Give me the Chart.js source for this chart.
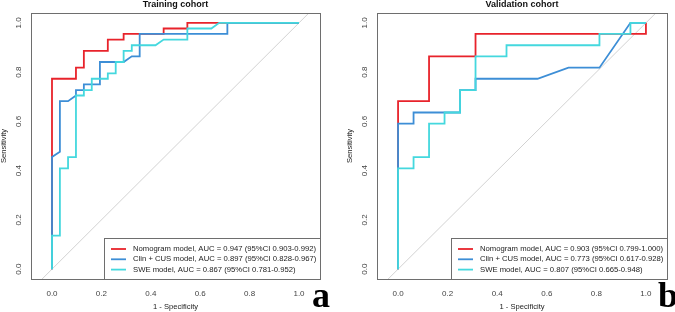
<!DOCTYPE html>
<html><head><meta charset="utf-8">
<script src="https://cdn.jsdelivr.net/npm/chart.js@4"></script>
<style>
html,body{margin:0;padding:0;background:#fff;}
#wrap{position:relative;width:675px;height:312px;overflow:hidden;background:#fff;}
canvas{position:absolute;top:0;}
</style></head><body>
<div id="wrap">
<canvas id="ca" width="338" height="312" style="left:0;width:338px;height:312px"></canvas>
<canvas id="cb" width="337" height="312" style="left:338px;width:337px;height:312px"></canvas>
</div>
<script>
// ---- data ----
const tickValues = [0, 0.2, 0.4, 0.6, 0.8, 1.0];
const tickLabels = ['0.0', '0.2', '0.4', '0.6', '0.8', '1.0'];
const panelTitles = ['Training cohort', 'Validation cohort'];
const panelLetters = ['a', 'b'];
const xAxisLabel = '1 - Specificity';
const yAxisLabel = 'Sensitivity';

const trainLegend = [
  'Nomogram model, AUC = 0.947 (95%CI 0.903-0.992)',
  'Clin + CUS model, AUC = 0.897 (95%CI 0.828-0.967)',
  'SWE model, AUC = 0.867 (95%CI 0.781-0.952)'
];
const validLegend = [
  'Nomogram model, AUC = 0.903 (95%CI 0.799-1.000)',
  'Clin + CUS model, AUC = 0.773 (95%CI 0.617-0.928)',
  'SWE model, AUC = 0.807 (95%CI 0.665-0.948)'
];

// Training cohort (x = 1 - specificity, y = sensitivity)
const trainNomX = [0, 0, 0.097, 0.097, 0.129, 0.129, 0.226, 0.226, 0.290, 0.290, 0.452, 0.452, 0.548, 0.548, 1.0];
const trainNomY = [0, 0.773, 0.773, 0.818, 0.818, 0.886, 0.886, 0.932, 0.932, 0.955, 0.955, 0.977, 0.977, 1.0, 1.0];
const trainClinX = [0, 0, 0.032, 0.032, 0.065, 0.097, 0.097, 0.129, 0.129, 0.194, 0.194, 0.290, 0.323, 0.355, 0.355, 0.710, 0.710, 1.0];
const trainClinY = [0, 0.455, 0.477, 0.682, 0.682, 0.705, 0.727, 0.727, 0.750, 0.750, 0.841, 0.841, 0.864, 0.864, 0.955, 0.955, 1.0, 1.0];
const trainSweX = [0, 0, 0.032, 0.032, 0.065, 0.065, 0.097, 0.097, 0.129, 0.129, 0.161, 0.161, 0.226, 0.226, 0.258, 0.258, 0.290, 0.290, 0.323, 0.323, 0.419, 0.452, 0.548, 0.548, 0.645, 0.677, 1.0];
const trainSweY = [0, 0.136, 0.136, 0.409, 0.409, 0.455, 0.455, 0.705, 0.705, 0.727, 0.727, 0.773, 0.773, 0.795, 0.795, 0.841, 0.841, 0.886, 0.886, 0.909, 0.909, 0.932, 0.932, 0.977, 0.977, 1.0, 1.0];

// Validation cohort
const validNomX = [0, 0, 0.125, 0.125, 0.3125, 0.3125, 1.0, 1.0];
const validNomY = [0, 0.682, 0.682, 0.864, 0.864, 0.955, 0.955, 1.0];
const validClinX = [0, 0, 0.0625, 0.0625, 0.25, 0.25, 0.3125, 0.3125, 0.5625, 0.6875, 0.8125, 0.9375, 1.0];
const validClinY = [0, 0.591, 0.591, 0.636, 0.636, 0.727, 0.727, 0.773, 0.773, 0.818, 0.818, 1.0, 1.0];
const validSweX = [0, 0, 0.0625, 0.0625, 0.125, 0.125, 0.1875, 0.1875, 0.25, 0.25, 0.3125, 0.3125, 0.4375, 0.4375, 0.8125, 0.8125, 0.9375, 0.9375, 1.0];
const validSweY = [0, 0.409, 0.409, 0.455, 0.455, 0.591, 0.591, 0.636, 0.636, 0.727, 0.727, 0.864, 0.864, 0.909, 0.909, 0.955, 0.955, 1.0, 1.0];

const refLine = [-0.2, 1.2];

const COLORS = ['#e8232b', '#3d8ed6', '#44d8de'];
const DIAG = '#d2d2d2';

function pts(xs, ys) { return xs.map((x, i) => ({x: x, y: ys[i]})); }

const FONT = '"Liberation Sans", Arial, Helvetica, sans-serif';

const panelPlugin = {
  id: 'panelDeco',
  afterDraw(chart) {
    const o = chart.options.plugins.panelDeco;
    const ctx = chart.ctx;
    const a = chart.chartArea;
    const xs = chart.scales.x, ys = chart.scales.y;
    ctx.save();
    // plot box
    ctx.strokeStyle = '#6e6e6e';
    ctx.lineWidth = 1;
    ctx.strokeRect(Math.round(a.left) + 0.5, Math.round(a.top) + 0.5, Math.round(a.right - a.left), Math.round(a.bottom - a.top));
    // y tick labels (rotated)
    ctx.fillStyle = '#444';
    ctx.font = '8px ' + FONT;
    ctx.textAlign = 'center';
    ctx.textBaseline = 'middle';
    tickValues.forEach((v, i) => {
      const py = ys.getPixelForValue(v);
      ctx.save();
      ctx.translate(a.left - 12, py);
      ctx.rotate(-Math.PI / 2);
      ctx.fillText(tickLabels[i], 0, 0);
      ctx.restore();
    });
    // y axis label
    ctx.fillStyle = '#222';
    ctx.font = '7.6px ' + FONT;
    ctx.save();
    ctx.translate(a.left - 27, (a.top + a.bottom) / 2);
    ctx.rotate(-Math.PI / 2);
    ctx.fillText(yAxisLabel, 0, 0);
    ctx.restore();
    // x axis label
    ctx.fillText(xAxisLabel, (a.left + a.right) / 2, 307);
    // title
    ctx.fillStyle = '#111';
    ctx.font = 'bold 9px ' + FONT;
    ctx.fillText(o.title, (a.left + a.right) / 2, 5);
    // legend
    const lw = 216, lh = 41;
    const lx = a.right - lw, ly = a.bottom - lh;
    ctx.fillStyle = '#fff';
    ctx.fillRect(lx, ly, lw, lh);
    ctx.strokeStyle = '#6e6e6e';
    ctx.strokeRect(Math.round(lx) + 0.5, Math.round(ly) + 0.5, lw, lh);
    ctx.font = '7.7px ' + FONT;
    ctx.textAlign = 'left';
    const dsets = chart.data.datasets.slice(0, 3);
    dsets.forEach((d, i) => {
      const cy = ly + 11 + i * 10.3;
      ctx.strokeStyle = d.borderColor;
      ctx.lineWidth = 1.8;
      ctx.beginPath();
      ctx.moveTo(lx + 7, cy);
      ctx.lineTo(lx + 22, cy);
      ctx.stroke();
      ctx.fillStyle = '#222';
      ctx.fillText(d.label, lx + 29, cy);
    });
    // panel letter
    ctx.fillStyle = '#000';
    ctx.font = 'bold 36px "Liberation Serif", "DejaVu Serif", serif';
    ctx.textAlign = 'left';
    ctx.textBaseline = 'alphabetic';
    ctx.fillText(o.letter, o.letterX, 307);
    ctx.restore();
  }
};

function makeChart(id, legendText, series, title, letter, leftW, rightPad, letterX) {
  const datasets = series.map((s, i) => ({
    label: legendText[i],
    data: s,
    borderColor: COLORS[i],
    borderWidth: 1.8,
    pointRadius: 0,
    showLine: true,
    fill: false,
    tension: 0,
    order: 2 - i
  }));
  datasets.push({
    label: 'reference',
    data: pts(refLine, refLine),
    borderColor: DIAG,
    borderWidth: 1,
    pointRadius: 0,
    showLine: true,
    fill: false,
    order: 5,
    clip: 0
  });
  return new Chart(document.getElementById(id), {
    type: 'scatter',
    data: {datasets: datasets},
    options: {
      responsive: false,
      animation: false,
      devicePixelRatio: 1,
      layout: {padding: {top: 13, right: rightPad, left: 0, bottom: 0}},
      plugins: {
        legend: {display: false},
        tooltip: {enabled: false},
        panelDeco: {title: title, letter: letter, letterX: letterX}
      },
      scales: {
        x: {
          type: 'linear', min: -0.085, max: 1.085,
          grid: {display: false, drawTicks: false},
          border: {display: false},
          afterBuildTicks: s => { s.ticks = tickValues.map(v => ({value: v})); },
          afterFit: s => { s.height = 33; },
          ticks: {
            color: '#444', padding: 10, maxRotation: 0, autoSkip: false,
            font: {size: 8, family: FONT},
            callback: (v) => tickLabels[tickValues.findIndex(t => Math.abs(t - v) < 1e-6)]
          }
        },
        y: {
          type: 'linear', min: -0.04, max: 1.04,
          grid: {display: false, drawTicks: false},
          border: {display: false},
          afterBuildTicks: s => { s.ticks = tickValues.map(v => ({value: v})); },
          afterFit: s => { s.width = leftW; },
          ticks: {display: false}
        }
      }
    },
    plugins: [panelPlugin]
  });
}

makeChart('ca', trainLegend,
  [pts(trainNomX, trainNomY), pts(trainClinX, trainClinY), pts(trainSweX, trainSweY)],
  panelTitles[0], panelLetters[0], 31, 18, 312);
makeChart('cb', validLegend,
  [pts(validNomX, validNomY), pts(validClinX, validClinY), pts(validSweX, validSweY)],
  panelTitles[1], panelLetters[1], 39, 8, 320);
</script>
</body></html>
